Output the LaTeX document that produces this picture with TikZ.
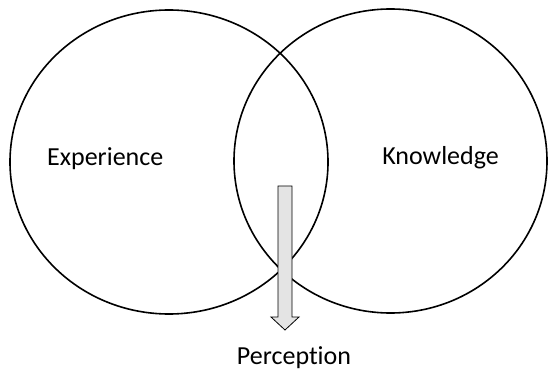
\documentclass[tikz,border=0pt]{standalone}
\usepackage{fontspec}
\setmainfont{Carlito}[Ligatures=NoCommon]
\usetikzlibrary{shapes,arrows,positioning,calc}
\definecolor{arrowgray}{RGB}{228,228,228}
\tikzset{
  setcircle/.style={ellipse, draw=black, line width=1.6pt, minimum width=318pt, minimum height=304pt, inner sep=0pt},
  setlabel/.style={inner sep=0pt, font=\fontsize{26}{30}\selectfont},
}
\begin{document}
\begin{tikzpicture}[x=1pt,y=-1pt]
\useasboundingbox (0,0) rectangle (548,371);
\node[setcircle] (experience) at (169,162) {};
\node[setcircle, minimum width=313pt] (knowledge) at (390.5,161) {};
\node[setlabel, anchor=base west] (explabel) at (47,166) {Experience};
\node[setlabel, anchor=base east] (knowlabel) at (499,165) {Knowledge};
% block arrow from the overlap down to the label
\coordinate (arrowtop) at (285,186);
\draw[line width=0.8pt, fill=arrowgray] ($(arrowtop)+(-7,0)$) -- ($(arrowtop)+(7,0)$) -- ($(arrowtop)+(7,131)$) -- ($(arrowtop)+(14,131)$) -- ($(arrowtop)+(0,144)$) -- ($(arrowtop)+(-14,131)$) -- ($(arrowtop)+(-7,131)$) -- cycle;
\node[setlabel, anchor=base] (perception) at (294,364) {Perception};
\end{tikzpicture}
\end{document}
